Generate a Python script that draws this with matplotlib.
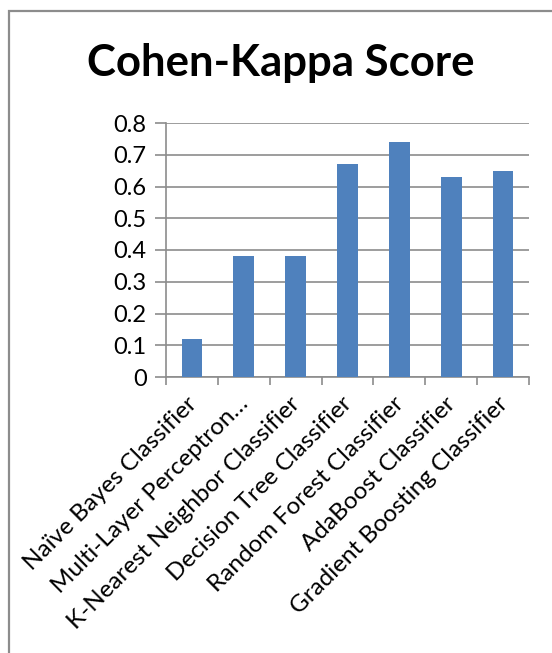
import numpy as np
import matplotlib
matplotlib.use("Agg")
import matplotlib.pyplot as plt
from matplotlib.patches import Rectangle

# Data
classifiers = [
    "Naïve Bayes Classifier",
    "Multi-Layer Perceptron…",
    "K-Nearest Neighbor Classifier",
    "Decision Tree Classifier",
    "Random Forest Classifier",
    "AdaBoost Classifier",
    "Gradient Boosting Classifier",
]
kappa = [0.12, 0.38, 0.38, 0.67, 0.74, 0.63, 0.65]
yticks = [0, 0.1, 0.2, 0.3, 0.4, 0.5, 0.6, 0.7, 0.8]
yticklabels = ["0", "0.1", "0.2", "0.3", "0.4", "0.5", "0.6", "0.7", "0.8"]

W, H = 552, 653
fig = plt.figure(figsize=(W / 100, H / 100), dpi=100)
plt.rcParams["font.family"] = ["Lato", "DejaVu Sans"]

# chart frame (only left/top edges visible in reference)
fig.patches.append(Rectangle((8.5 / W, -0.1), 1.2, 1 - 11 / H + 0.1,
                             transform=fig.transFigure, fill=False,
                             edgecolor="#8c8c8c", linewidth=1.6))

ax = fig.add_axes([166 / W, 1 - 377 / H, (529 - 166) / W, (377 - 123) / H])

x = np.arange(len(classifiers))
ax.bar(x, kappa, width=0.40, color="#4f81bd", zorder=3)

ax.set_xlim(-0.5, len(classifiers) - 0.5)
ax.set_ylim(0, 0.8)
ax.set_yticks(yticks)
ax.set_yticklabels(yticklabels, fontsize=17)
ax.yaxis.grid(True, color="#8c8c8c", linewidth=1.2, zorder=0)

# category boundary ticks on x axis
ax.set_xticks(np.arange(len(classifiers) + 1) - 0.5)
ax.set_xticklabels([])
ax.tick_params(axis="x", length=6, color="#8c8c8c", width=1.2, direction="out")
ax.tick_params(axis="y", length=8, color="#8c8c8c", width=1.2, direction="out", pad=6)

# rotated category labels ending under each bar
for xi, name in zip(x, classifiers):
    ax.text(xi - 0.12, -0.05, name, rotation=45, rotation_mode="anchor",
            ha="right", va="top", fontsize=17.5)

for side in ["top", "right"]:
    ax.spines[side].set_visible(False)
for side in ["left", "bottom"]:
    ax.spines[side].set_color("#8c8c8c")
    ax.spines[side].set_linewidth(1.2)

fig.text(281 / W, 1 - 76 / H, "Cohen-Kappa Score", ha="center", va="baseline",
         fontsize=31.5, fontweight="bold")

plt.savefig("out.png", dpi=100)
plt.close()
